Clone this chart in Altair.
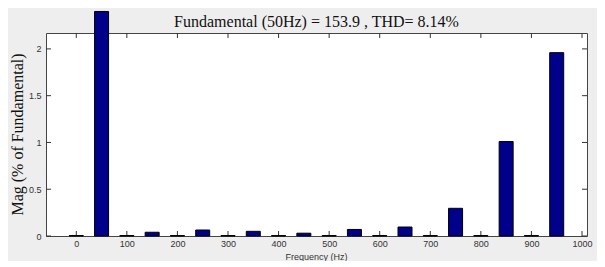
import altair as alt
import pandas as pd

freqs = [0, 50, 100, 150, 200, 250, 300, 350, 400, 450, 500,
         550, 600, 650, 700, 750, 800, 850, 900, 950]
mags = [0.005, 2.40, 0.005, 0.04, 0.005, 0.064, 0.005, 0.05, 0.005, 0.03, 0.005,
        0.07, 0.005, 0.096, 0.005, 0.296, 0.005, 1.01, 0.005, 1.96]
x_ticks = [0, 100, 200, 300, 400, 500, 600, 700, 800, 900, 1000]
y_ticks = [0, 0.5, 1, 1.5, 2]

title_text = "Fundamental (50Hz) = 153.9 , THD= 8.14%"
x_title = "Frequency (Hz)"
y_title = "Mag (% of Fundamental)"

W, H = 541, 203
bars_df = pd.DataFrame({"freq": freqs, "mag": mags})
xt_df = pd.DataFrame({"t": x_ticks})
yt_df = pd.DataFrame({"t": y_ticks})

xs = alt.Scale(domain=[-50, 1000], nice=False, zero=False)
ys = alt.Scale(domain=[0, 2.17], nice=False)

x_axis = alt.Axis(values=x_ticks, format="d", grid=False, domain=False, tickSize=0,
                  labelPadding=3,
                  labelFont="Liberation Sans", labelFontSize=9, labelColor="#333",
                  title=x_title, titleFont="Liberation Sans", titleFontSize=9,
                  titleFontWeight="normal", titleColor="#333",
                  titleX=270, titleY=20, titleBaseline="middle", titleAlign="center")
y_axis = alt.Axis(values=y_ticks, format="~g", grid=False, domain=False, tickSize=0,
                  labelPadding=5,
                  labelFont="Liberation Sans", labelFontSize=9, labelColor="#333",
                  title=y_title, titleFont="Liberation Serif", titleFontSize=16,
                  titleFontWeight="normal", titleColor="#111",
                  titleX=-29, titleY=101, titleAngle=-90, titleAlign="center",
                  titleBaseline="middle")

bars = alt.Chart(bars_df).mark_bar(size=14, color="#00008b", stroke="#000",
                                   strokeWidth=1, clip=False).encode(
    x=alt.X("freq:Q", scale=xs, axis=x_axis),
    y=alt.Y("mag:Q", scale=ys, axis=y_axis),
    y2=alt.datum(0),
)

tick_style = dict(color="#333", strokeWidth=1)
xb = alt.Chart(xt_df).mark_rule(**tick_style).encode(
    x=alt.X("t:Q", scale=xs), y=alt.value(H), y2=alt.value(H - 5))
xtp = alt.Chart(xt_df).mark_rule(**tick_style).encode(
    x=alt.X("t:Q", scale=xs), y=alt.value(0), y2=alt.value(5))
yl = alt.Chart(yt_df).mark_rule(**tick_style).encode(
    y=alt.Y("t:Q", scale=ys), x=alt.value(0), x2=alt.value(5))
yr = alt.Chart(yt_df).mark_rule(**tick_style).encode(
    y=alt.Y("t:Q", scale=ys), x=alt.value(W), x2=alt.value(W - 5))

title_mark = alt.Chart(pd.DataFrame({"t": [title_text]})).mark_text(
    font="Liberation Serif", fontSize=16, color="#111", align="center",
    baseline="alphabetic", clip=False).encode(
    text="t:N", x=alt.value(W / 2), y=alt.value(-6))

chart = alt.layer(xb, xtp, yl, yr, bars, title_mark).properties(
    width=W, height=H,
    padding={"left": 38, "top": 25, "right": 10, "bottom": 25},
    autosize=alt.AutoSizeParams(type="none"),
).configure(background="#eeeeee").configure_view(fill="white", stroke="#444", strokeWidth=1)

chart.save("out.html", embed_options={"renderer": "svg", "actions": False})
